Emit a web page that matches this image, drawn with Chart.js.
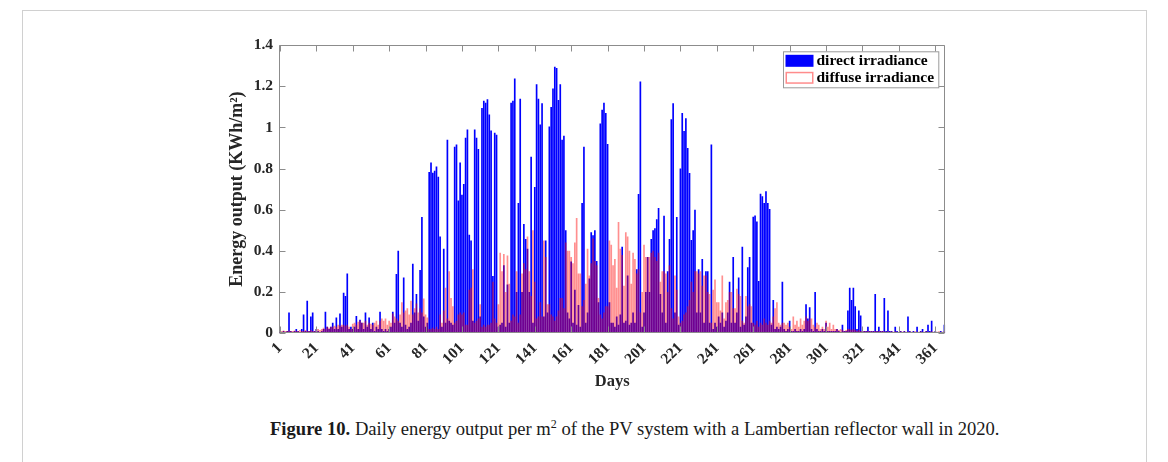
<!DOCTYPE html>
<html><head><meta charset="utf-8">
<script src="https://cdn.jsdelivr.net/npm/chart.js@4"></script>
<style>
html,body{margin:0;padding:0;background:#fff;}
#fig{position:relative;width:1168px;height:462px;overflow:hidden;background:#fff;}
#frame{position:absolute;left:22px;top:10px;width:1123px;height:480px;border:1px solid #d0d0d0;}
#c{position:absolute;left:220px;top:30px;}
#cap{position:absolute;left:270px;top:418px;font-family:"Liberation Serif",serif;font-size:18.6px;color:#1a1a1a;white-space:nowrap;}
#cap sup{font-size:12px;vertical-align:7px;line-height:0;}
</style></head>
<body>
<div id="fig">
  <div id="frame"></div>
  <canvas id="c" width="740" height="366"></canvas>
  <div id="cap"><b>Figure 10.</b> Daily energy output per m<sup>2</sup> of the PV system with a Lambertian reflector wall in 2020.</div>
</div>
<script>
// ---- data ----
const days = Array.from({length: 366}, (_, i) => String(i + 1));
const xTickDays = [1,21,41,61,81,101,121,141,161,181,201,221,241,261,281,301,321,341,361];
const yTicks = [0,0.2,0.4,0.6,0.8,1,1.2,1.4];
const seriesNames = ['direct irradiance','diffuse irradiance'];

const direct = [
0.01,0.005,0.01,0.005,0.01,0.10,0.01,0.005,0.01,0.02,
0.01,0.005,0.02,0.09,0.01,0.157,0.01,0.08,0.10,0.01,
0.02,0.01,0.005,0.01,0.02,0.104,0.03,0.02,0.03,0.05,
0.02,0.075,0.02,0.095,0.03,0.196,0.18,0.29,0.02,0.03,
0.02,0.03,0.083,0.02,0.064,0.05,0.02,0.10,0.03,0.075,
0.02,0.05,0.01,0.03,0.02,0.104,0.02,0.01,0.02,0.01,
0.02,0.03,0.104,0.05,0.287,0.40,0.05,0.03,0.27,0.04,
0.02,0.03,0.05,0.337,0.10,0.19,0.06,0.306,0.564,0.08,
0.03,0.05,0.784,0.83,0.78,0.79,0.81,0.76,0.47,0.03,
0.41,0.05,0.94,0.06,0.05,0.04,0.906,0.917,0.645,0.83,
0.673,0.725,0.95,0.99,0.478,0.45,0.06,0.99,0.95,0.895,
0.08,1.095,1.13,1.12,1.137,1.063,0.986,0.277,0.975,0.965,
0.03,0.04,0.05,0.33,0.03,0.236,0.05,1.12,1.13,1.238,
0.2,0.633,1.14,0.2,0.53,0.457,0.41,0.2,0.858,0.05,
0.71,1.21,1.14,1.015,1.118,0.08,0.45,0.1,1.005,1.1,
1.19,1.296,1.29,1.134,1.21,0.94,0.96,0.5,0.1,0.07,
0.348,0.05,0.21,0.04,0.136,0.03,0.633,0.906,0.05,0.1,
0.265,0.49,0.476,0.5,0.35,0.15,1.02,1.086,1.12,1.07,
0.92,0.15,0.05,0.05,0.03,0.08,0.04,0.09,0.42,0.05,
0.06,0.28,0.04,0.05,0.1,0.05,0.31,0.677,1.224,0.03,
0.1,0.2,0.37,0.2,0.457,0.50,0.51,0.553,0.608,0.19,
0.1,0.57,0.05,0.3,0.457,1.04,1.118,0.1,0.564,0.04,
0.80,1.07,0.983,1.045,0.90,0.778,0.452,0.50,0.60,0.1,
0.31,0.1,0.36,0.05,0.30,0.30,0.05,0.917,0.02,0.05,
0.03,0.08,0.05,0.1,0.03,0.06,0.1,0.25,0.05,0.37,
0.05,0.1,0.27,0.03,0.42,0.04,0.08,0.32,0.37,0.05,
0.566,0.572,0.542,0.253,0.678,0.666,0.633,0.69,0.633,0.604,
0.04,0.16,0.02,0.03,0.02,0.03,0.25,0.02,0.01,0.02,
0.06,0.01,0.01,0.02,0.01,0.01,0.02,0.01,0.02,0.14,
0.07,0.125,0.02,0.01,0.2,0.02,0.01,0.01,0.02,0.01,
0.05,0.01,0.01,0.01,0.01,0.01,0.02,0.01,0.005,0.04,
0.01,0.01,0.11,0.22,0.16,0.22,0.13,0.02,0.11,0.085,
0.01,0.01,0.01,0.03,0.01,0.01,0.01,0.19,0.01,0.03,
0.01,0.01,0.17,0.01,0.11,0.01,0.01,0.005,0.03,0.01,
0.005,0.01,0.005,0.01,0.005,0.08,0.01,0.005,0.01,0.005,
0.03,0.005,0.01,0.02,0.005,0.01,0.04,0.01,0.06,0.005,
0.01,0.005,0.005,0.01,0.005,0.04
];

const diffuse = [
0.01,0.01,0.012,0.01,0.01,0.012,0.01,0.01,0.012,0.01,
0.01,0.015,0.01,0.01,0.015,0.01,0.01,0.015,0.01,0.01,
0.02,0.02,0.015,0.02,0.025,0.02,0.03,0.025,0.03,0.03,
0.035,0.03,0.04,0.035,0.04,0.04,0.035,0.04,0.03,0.02,
0.045,0.05,0.04,0.055,0.06,0.05,0.05,0.06,0.04,0.05,
0.045,0.04,0.05,0.06,0.04,0.06,0.07,0.06,0.07,0.04,
0.06,0.05,0.095,0.08,0.07,0.06,0.09,0.15,0.10,0.11,
0.12,0.09,0.157,0.09,0.12,0.144,0.10,0.12,0.10,0.168,
0.09,0.075,0.02,0.02,0.025,0.02,0.03,0.02,0.09,0.05,
0.11,0.22,0.07,0.30,0.17,0.13,0.05,0.06,0.09,0.10,
0.09,0.10,0.04,0.04,0.21,0.22,0.31,0.05,0.06,0.07,
0.14,0.03,0.04,0.03,0.04,0.04,0.05,0.25,0.07,0.05,
0.14,0.39,0.30,0.385,0.20,0.377,0.24,0.06,0.09,0.08,
0.30,0.05,0.09,0.29,0.34,0.31,0.47,0.30,0.18,0.50,
0.25,0.07,0.08,0.15,0.08,0.45,0.37,0.14,0.14,0.09,
0.08,0.06,0.08,0.11,0.17,0.17,0.12,0.44,0.40,0.40,
0.37,0.34,0.44,0.56,0.29,0.29,0.13,0.16,0.24,0.41,
0.28,0.34,0.46,0.35,0.33,0.17,0.09,0.07,0.10,0.13,
0.13,0.45,0.43,0.33,0.36,0.22,0.54,0.41,0.38,0.23,
0.49,0.47,0.40,0.24,0.39,0.36,0.29,0.31,0.10,0.20,
0.43,0.37,0.37,0.37,0.39,0.40,0.37,0.35,0.39,0.25,
0.30,0.30,0.29,0.20,0.33,0.12,0.07,0.28,0.21,0.08,
0.05,0.06,0.09,0.10,0.13,0.16,0.25,0.20,0.30,0.30,
0.29,0.30,0.23,0.28,0.28,0.20,0.19,0.05,0.21,0.26,
0.15,0.15,0.11,0.28,0.07,0.15,0.16,0.20,0.20,0.12,
0.12,0.215,0.19,0.18,0.06,0.05,0.18,0.13,0.14,0.13,
0.05,0.04,0.06,0.03,0.05,0.04,0.07,0.05,0.04,0.06,
0.05,0.08,0.12,0.15,0.05,0.04,0.05,0.05,0.04,0.05,
0.03,0.02,0.08,0.04,0.06,0.03,0.07,0.04,0.06,0.08,
0.06,0.07,0.07,0.04,0.03,0.05,0.04,0.02,0.03,0.02,
0.06,0.03,0.05,0.02,0.04,0.02,0.02,0.015,0.02,0.015,
0.01,0.015,0.02,0.02,0.015,0.02,0.015,0.01,0.015,0.01,
0.01,0.01,0.008,0.01,0.008,0.01,0.008,0.01,0.008,0.01,
0.008,0.01,0.008,0.006,0.008,0.006,0.008,0.006,0.008,0.006,
0.006,0.008,0.006,0.008,0.006,0.006,0.008,0.006,0.006,0.008,
0.006,0.006,0.008,0.006,0.006,0.008,0.006,0.006,0.008,0.006,
0.006,0.006,0.008,0.006,0.006,0.008
];

// ---- styles ----
const FONT = '"Liberation Serif", "Times New Roman", serif';
const AXIS_COLOR = '#8c8c8c';
const TEXT_COLOR = '#262626';
const BLUE = '#0000ff';
const RED_FILL = 'rgba(255,0,0,0.44)';

const framePlugin = {
  id: 'frame',
  afterDatasetsDraw(chart) {
    const {ctx, chartArea: a, scales: {x, y}} = chart;
    const L = Math.round(a.left) + 0.5, R = Math.round(a.right) - 0.5;
    const T = Math.round(a.top) + 0.5, B = Math.round(a.bottom) - 0.5;
    ctx.save();
    ctx.strokeStyle = AXIS_COLOR;
    ctx.lineWidth = 1;
    ctx.beginPath();
    ctx.rect(L, T, R - L, B - T);
    const tl = 6;
    xTickDays.forEach(d => {
      const px = Math.round(x.getPixelForValue(d - 1)) + 0.5;
      ctx.moveTo(px, B); ctx.lineTo(px, B - tl);
      ctx.moveTo(px, T); ctx.lineTo(px, T + tl);
    });
    yTicks.forEach(v => {
      const py = Math.round(y.getPixelForValue(v)) + 0.5;
      ctx.moveTo(L, py); ctx.lineTo(L + tl, py);
      ctx.moveTo(R, py); ctx.lineTo(R - tl, py);
    });
    ctx.stroke();
    ctx.restore();
  }
};

const legendPlugin = {
  id: 'boxLegend',
  afterDraw(chart) {
    const {ctx, chartArea: a} = chart;
    const ds = chart.data.datasets;
    ctx.save();
    ctx.font = 'bold 15.5px ' + FONT;
    const tw = Math.max(...ds.map(d => ctx.measureText(d.label).width));
    const sw = 28, sh = 12, pad = 2, gap = 3, rowH = 17;
    const w = pad + sw + gap + tw + 5;
    const h = 36;
    const right = a.right - 6.5, top = a.top + 6.5;
    const left = Math.round(right - w) + 0.5;
    ctx.fillStyle = '#fff';
    ctx.fillRect(left, top, right - left, h);
    ctx.strokeStyle = '#9a9a9a';
    ctx.lineWidth = 1;
    ctx.strokeRect(left, top, right - left, h);
    ds.forEach((d, i) => {
      const sy = top + 3 + i * rowH;
      const sx = left + pad;
      if (i === 0) {
        ctx.fillStyle = d.backgroundColor;
        ctx.fillRect(sx, sy, sw, sh);
      } else {
        ctx.fillStyle = '#fff';
        ctx.fillRect(sx, sy, sw, sh);
        ctx.strokeStyle = 'rgba(255,0,0,0.45)';
        ctx.lineWidth = 1.5;
        ctx.strokeRect(sx + 0.75, sy + 0.75, sw - 1.5, sh - 1.5);
      }
      ctx.fillStyle = '#000';
      ctx.textBaseline = 'middle';
      ctx.textAlign = 'left';
      ctx.fillText(d.label, sx + sw + gap, sy + sh / 2 + 0.5);
    });
    ctx.restore();
  }
};

new Chart(document.getElementById('c'), {
  type: 'bar',
  data: {
    labels: days,
    datasets: [
      {label: seriesNames[0], data: direct, backgroundColor: BLUE, borderWidth: 0,
       grouped: false, barPercentage: 0.92, categoryPercentage: 1, order: 2},
      {label: seriesNames[1], data: diffuse, backgroundColor: RED_FILL, borderWidth: 0,
       grouped: false, barPercentage: 0.92, categoryPercentage: 1, order: 1}
    ]
  },
  options: {
    responsive: false, animation: false, devicePixelRatio: 1,
    layout: {padding: {top: 12.5, right: 14.7, left: 0, bottom: 0}},
    plugins: {legend: {display: false}, tooltip: {enabled: false}},
    scales: {
      x: {
        type: 'category', offset: true,
        grid: {display: false, drawTicks: false}, border: {display: false},
        afterBuildTicks: s => { s.ticks = s.ticks.filter(t => xTickDays.includes(t.value + 1)); },
        afterFit: s => { s.height = 63; },
        ticks: {autoSkip: false, minRotation: 45, maxRotation: 45, padding: 6, color: TEXT_COLOR,
                font: {family: FONT, weight: 'bold', size: 15.5}},
        title: {display: true, text: 'Days', color: TEXT_COLOR,
                font: {family: FONT, weight: 'bold', size: 16.5}, padding: {top: 0, bottom: 4}}
      },
      y: {
        min: 0, max: 1.4,
        afterBuildTicks: s => { s.ticks = yTicks.map(v => ({value: v})); },
        afterFit: s => { s.width = 59; },
        grid: {display: false, drawTicks: false}, border: {display: false},
        ticks: {padding: 6, color: TEXT_COLOR, font: {family: FONT, weight: 'bold', size: 15.5},
                callback: v => String(+Number(v).toFixed(1))},
        title: {display: true, text: 'Energy output (KWh/m²)', color: TEXT_COLOR,
                font: {family: FONT, weight: 'bold', size: 18}, padding: {top: 7, bottom: 0}}
      }
    }
  },
  plugins: [framePlugin, legendPlugin]
});
</script>
</body></html>
